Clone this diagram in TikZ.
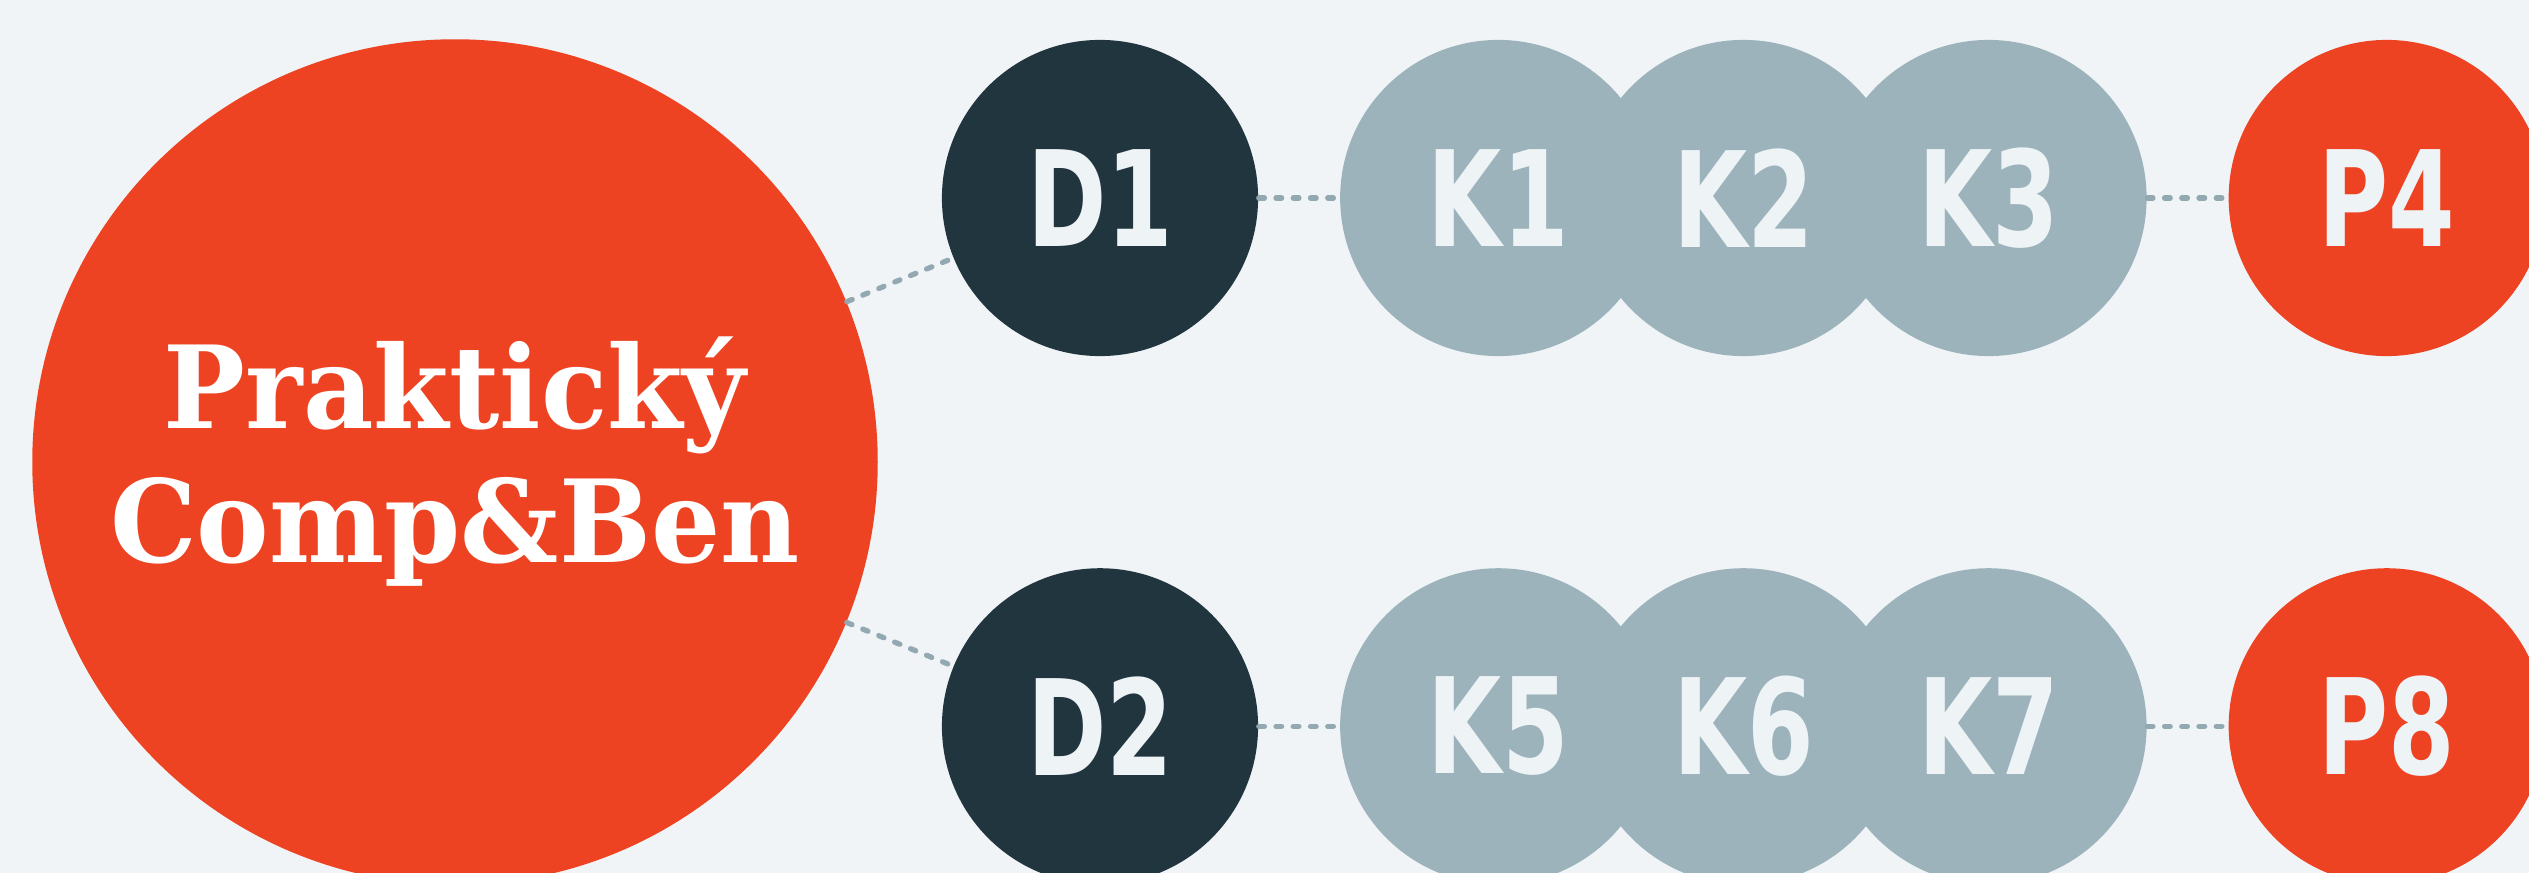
\documentclass[tikz,border=0pt]{standalone}
\usepackage{fontspec}
\setmainfont{DejaVu Serif}[FakeStretch=0.95]
\newfontfamily\labelfont{DejaVu Sans Condensed}[FakeStretch=0.8]
\usetikzlibrary{arrows}

\definecolor{bgcol}{HTML}{F0F4F7}
\definecolor{redcol}{HTML}{EE4323}
\definecolor{darkcol}{HTML}{21353F}
\definecolor{greycol}{HTML}{9DB3BC}
\definecolor{dotcol}{HTML}{93A9B2}
\definecolor{txtcol}{HTML}{EEF3F6}

\begin{document}
\begin{tikzpicture}[x=0.01cm,y=-0.01cm,node distance=3.98cm,
    bub/.style={circle,minimum size=3.16cm,inner sep=0pt,text=txtcol,
      font=\labelfont\bfseries\fontsize{37.8}{37.8}\selectfont},
    dept/.style={bub,fill=darkcol},
    kbub/.style={bub,fill=greycol},
    pbub/.style={bub,fill=redcol},
    link/.style={draw=dotcol,line width=1.5pt,line cap=round,dash pattern=on 1.6pt off 3.3pt}]
      \path[use as bounding box,fill=bgcol] (0,0) rectangle (2529,873);
      \node (PCB) [circle,fill=redcol,minimum size=8.45cm,inner sep=0pt,align=center,text=white,
        font=\bfseries\fontsize{32.6}{38.1}\selectfont] at (455,462) {Praktický\\Comp\&Ben};
      \node (D1) [dept] at (1100,198) {D1};
      \node (K1) [kbub,right of=D1] {K1};
      \node (K2) [kbub,right of=K1,node distance=2.45cm] {K2};
      \node (K3) [kbub,right of=K2,node distance=2.45cm] {K3};
      \node (P4) [pbub,right of=K3] {P4};
      \node (D2) [dept,below of=D1,node distance=5.28cm] {D2};
      \node (K5) [kbub,right of=D2] {K5};
      \node (K6) [kbub,right of=K5,node distance=2.45cm] {K6};
      \node (K7) [kbub,right of=K6,node distance=2.45cm] {K7};
      \node (P8) [pbub,right of=K7] {P8};
      \draw[link] (PCB) -- (D1);
      \draw[link] (PCB) -- (D2);
      \draw[link] (D1) -- (K1);
      \draw[link] (K3) -- (P4);
      \draw[link] (D2) -- (K5);
      \draw[link] (K7) -- (P8);
    \end{tikzpicture}
\end{document}
